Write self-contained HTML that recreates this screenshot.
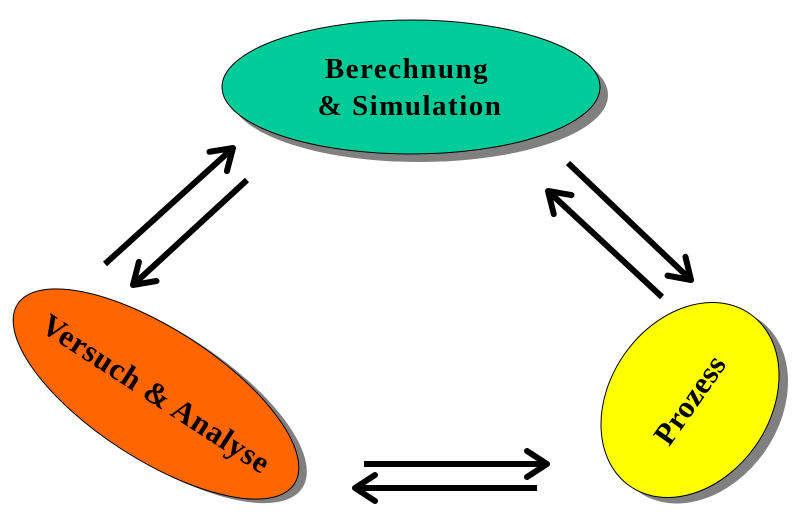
<!DOCTYPE html>
<html><head><meta charset="utf-8"><style>
html,body{margin:0;padding:0;background:#fff;width:800px;height:517px;overflow:hidden}
svg{display:block}
text{font-family:"Liberation Serif",serif;font-weight:bold;fill:#000}
</style></head><body>
<svg width="800" height="517" viewBox="0 0 800 517" xmlns="http://www.w3.org/2000/svg">
<defs>
<marker id="h" markerUnits="userSpaceOnUse" viewBox="-26 -16 32 32" markerWidth="32" markerHeight="32" refX="0" refY="0" orient="auto">
<polyline points="-20,-13 0,0 -20,13" fill="none" stroke="#000" stroke-width="6" stroke-linecap="round" stroke-linejoin="round"/>
</marker>
</defs>
<ellipse cx="419" cy="95" rx="189" ry="67" fill="#808080"/>
<ellipse cx="411" cy="87" rx="189" ry="67" fill="#00cc99" stroke="#000" stroke-width="1"/>
<text x="407" y="78" font-size="29" letter-spacing="1.5" text-anchor="middle">Berechnung</text>
<text x="410" y="115" font-size="29" letter-spacing="1.5" text-anchor="middle">&amp; Simulation</text>
<g transform="translate(156,394) rotate(33)">
<ellipse cx="0" cy="0" rx="165" ry="65" fill="#808080" transform="rotate(-33) translate(8,4) rotate(33)"/>
<ellipse cx="0" cy="0" rx="165" ry="65" fill="#ff6600" stroke="#000" stroke-width="1"/>
<text x="0" y="10" font-size="31" letter-spacing="0.8" text-anchor="middle">Versuch &amp; Analyse</text>
</g>
<g transform="translate(690,400) rotate(-55)">
<ellipse cx="0" cy="0" rx="105" ry="80" fill="#808080" transform="rotate(55) translate(9,6) rotate(-55)"/>
<ellipse cx="0" cy="0" rx="105" ry="80" fill="#ffff00" stroke="#000" stroke-width="1"/>
<text x="0" y="10" font-size="31" letter-spacing="0.3" text-anchor="middle">Prozess</text>
</g>
<g stroke="#000" stroke-width="6" fill="none">
<line x1="105" y1="264" x2="233" y2="148" marker-end="url(#h)"/>
<line x1="247" y1="180" x2="133" y2="285" marker-end="url(#h)"/>
<line x1="568" y1="163" x2="691" y2="280" marker-end="url(#h)"/>
<line x1="662" y1="297" x2="548" y2="191" marker-end="url(#h)"/>
<line x1="364" y1="464" x2="547" y2="464" marker-end="url(#h)"/>
<line x1="537" y1="488" x2="355" y2="488" marker-end="url(#h)"/>
</g>
</svg>
</body></html>
